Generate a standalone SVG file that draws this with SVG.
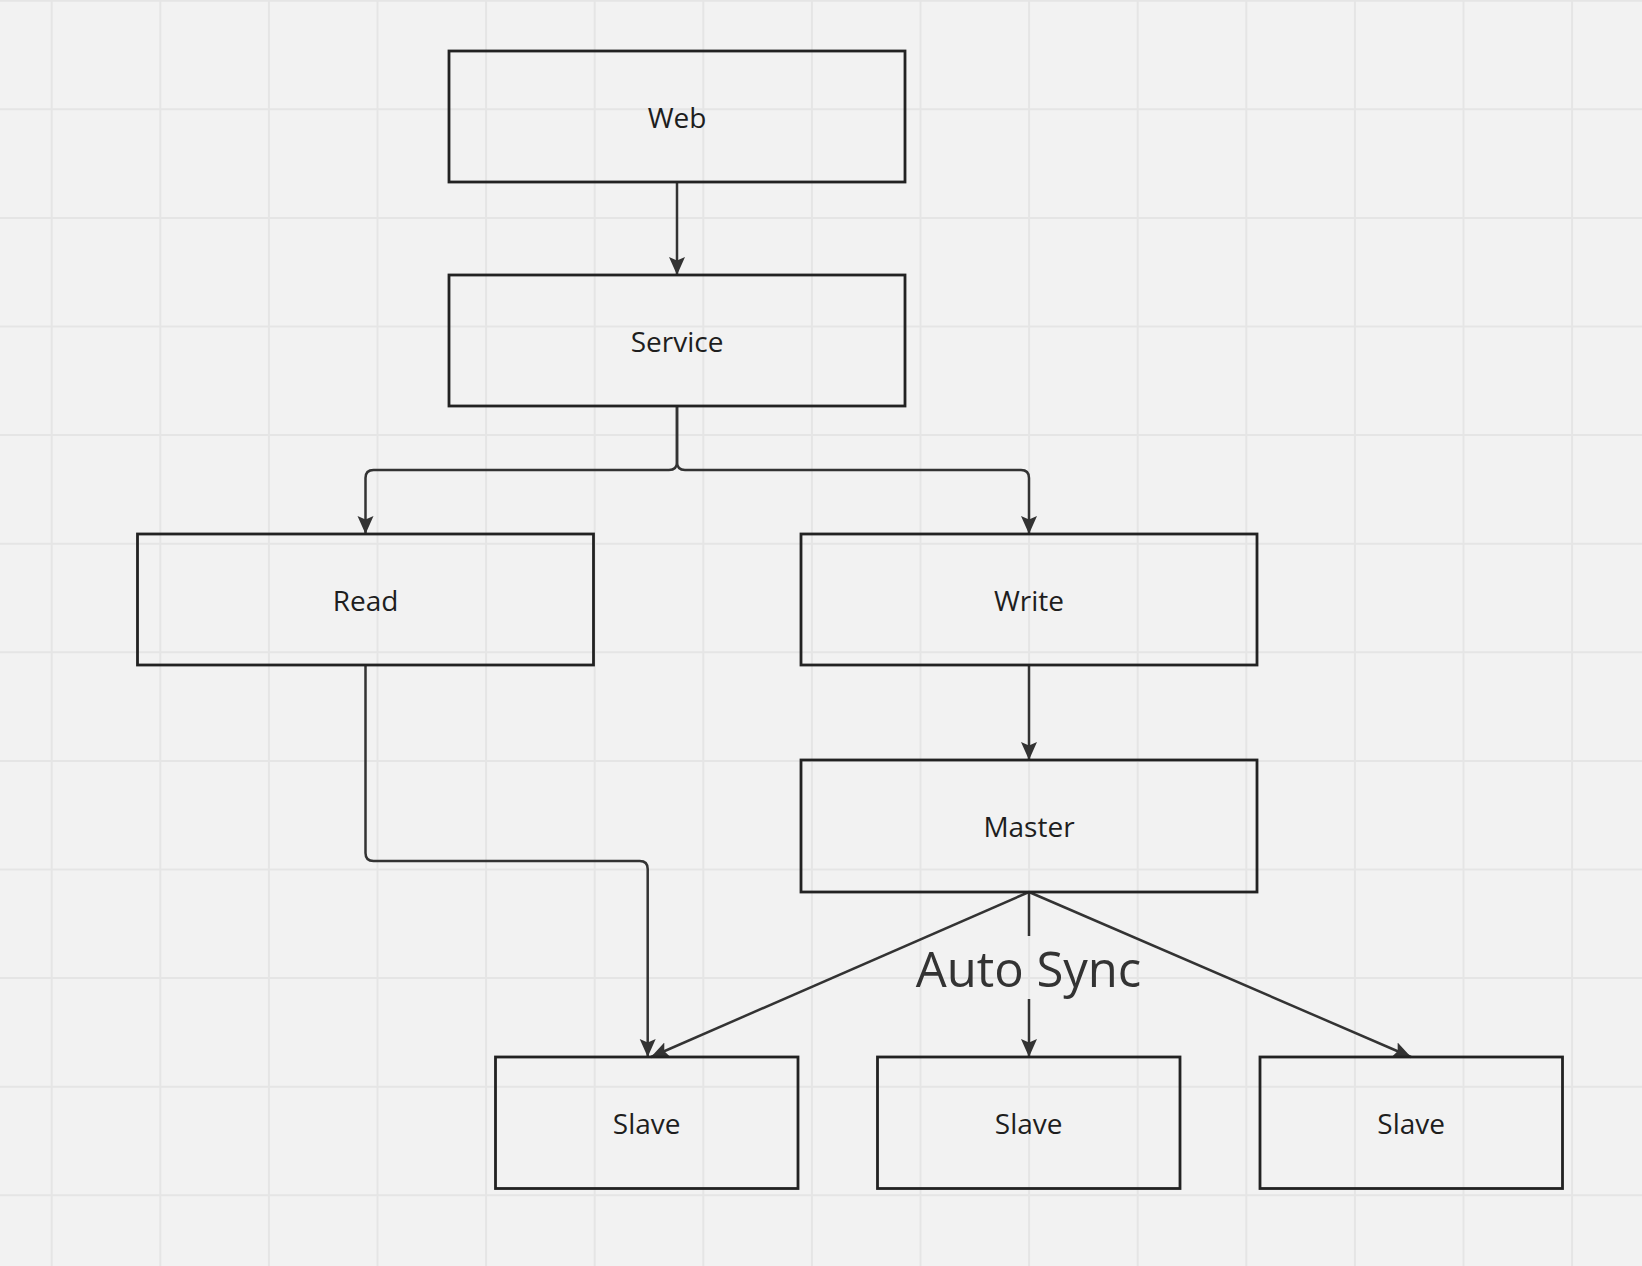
<svg xmlns="http://www.w3.org/2000/svg" width="1642" height="1266" viewBox="0 0 1642 1266">
<style>
.grid line{stroke:#e5e5e5;stroke-width:2}
.node rect{fill:none;stroke:#222;stroke-width:2.8}
.node text{font-family:"Open Sans","Noto Sans","DejaVu Sans",sans-serif;font-size:28px;fill:#1e1e1e;text-anchor:middle}
.conn path,.conn line{fill:none;stroke:#333;stroke-width:2.5}
.lbl{font-family:"Open Sans","Noto Sans","DejaVu Sans",sans-serif;font-size:49px;fill:#333;text-anchor:middle}
</style>
<defs>
<marker id="arr" viewBox="0 0 18 18" refX="18" refY="9" markerWidth="18" markerHeight="18" markerUnits="userSpaceOnUse" orient="auto">
<path d="M0,1 L18,9 L0,17 L3.5,9 z" fill="#333"/>
</marker>
</defs>
<rect width="1642" height="1266" fill="#f2f2f2"/>
<g class="grid">
<line x1="51.7" y1="0" x2="51.7" y2="1266"/>
<line x1="160.3" y1="0" x2="160.3" y2="1266"/>
<line x1="268.9" y1="0" x2="268.9" y2="1266"/>
<line x1="377.5" y1="0" x2="377.5" y2="1266"/>
<line x1="486.1" y1="0" x2="486.1" y2="1266"/>
<line x1="594.7" y1="0" x2="594.7" y2="1266"/>
<line x1="703.3" y1="0" x2="703.3" y2="1266"/>
<line x1="811.9" y1="0" x2="811.9" y2="1266"/>
<line x1="920.5" y1="0" x2="920.5" y2="1266"/>
<line x1="1029.1" y1="0" x2="1029.1" y2="1266"/>
<line x1="1137.7" y1="0" x2="1137.7" y2="1266"/>
<line x1="1246.3" y1="0" x2="1246.3" y2="1266"/>
<line x1="1354.9" y1="0" x2="1354.9" y2="1266"/>
<line x1="1463.5" y1="0" x2="1463.5" y2="1266"/>
<line x1="1572.1" y1="0" x2="1572.1" y2="1266"/>
<line x1="0" y1="0.7" x2="1642" y2="0.7"/>
<line x1="0" y1="109.3" x2="1642" y2="109.3"/>
<line x1="0" y1="217.9" x2="1642" y2="217.9"/>
<line x1="0" y1="326.5" x2="1642" y2="326.5"/>
<line x1="0" y1="435.1" x2="1642" y2="435.1"/>
<line x1="0" y1="543.7" x2="1642" y2="543.7"/>
<line x1="0" y1="652.3" x2="1642" y2="652.3"/>
<line x1="0" y1="760.9" x2="1642" y2="760.9"/>
<line x1="0" y1="869.5" x2="1642" y2="869.5"/>
<line x1="0" y1="978.1" x2="1642" y2="978.1"/>
<line x1="0" y1="1086.7" x2="1642" y2="1086.7"/>
<line x1="0" y1="1195.3" x2="1642" y2="1195.3"/>
</g>
<g class="conn">
<line x1="677" y1="182" x2="677" y2="275" marker-end="url(#arr)"/>
<path d="M677,406 V462 Q677,470 669,470 H373.5 Q365.5,470 365.5,478 V534" marker-end="url(#arr)"/>
<path d="M677,406 V462 Q677,470 685,470 H1021 Q1029,470 1029,478 V534" marker-end="url(#arr)"/>
<line x1="1029" y1="665" x2="1029" y2="760" marker-end="url(#arr)"/>
<path d="M365.5,665 V853 Q365.5,861 373.5,861 H639.7 Q647.7,861 647.7,869 V1057" marker-end="url(#arr)"/>
<line x1="1029" y1="892" x2="651" y2="1057" marker-end="url(#arr)"/>
<line x1="1029" y1="892" x2="1411" y2="1057" marker-end="url(#arr)"/>
<line x1="1029" y1="892" x2="1029" y2="936"/>
<line x1="1029" y1="999" x2="1029" y2="1057" marker-end="url(#arr)"/>
<text class="lbl" x="1028.5" y="986.5">Auto Sync</text>
</g>
<g id="web" class="node"><rect x="449" y="51" width="456" height="131"/><text x="677" y="127.5">Web</text></g>
<g id="service" class="node"><rect x="449" y="275" width="456" height="131"/><text x="677" y="351.5">Service</text></g>
<g id="read" class="node"><rect x="137.5" y="534" width="456" height="131"/><text x="365.5" y="610.5">Read</text></g>
<g id="write" class="node"><rect x="801" y="534" width="456" height="131"/><text x="1029" y="610.5">Write</text></g>
<g id="master" class="node"><rect x="801" y="760" width="456" height="132"/><text x="1029" y="837">Master</text></g>
<g id="slave1" class="node"><rect x="495.5" y="1057" width="302.5" height="131.5"/><text x="646.7" y="1134">Slave</text></g>
<g id="slave2" class="node"><rect x="877.5" y="1057" width="302.5" height="131.5"/><text x="1028.7" y="1134">Slave</text></g>
<g id="slave3" class="node"><rect x="1260" y="1057" width="302.5" height="131.5"/><text x="1411.2" y="1134">Slave</text></g>
</svg>
